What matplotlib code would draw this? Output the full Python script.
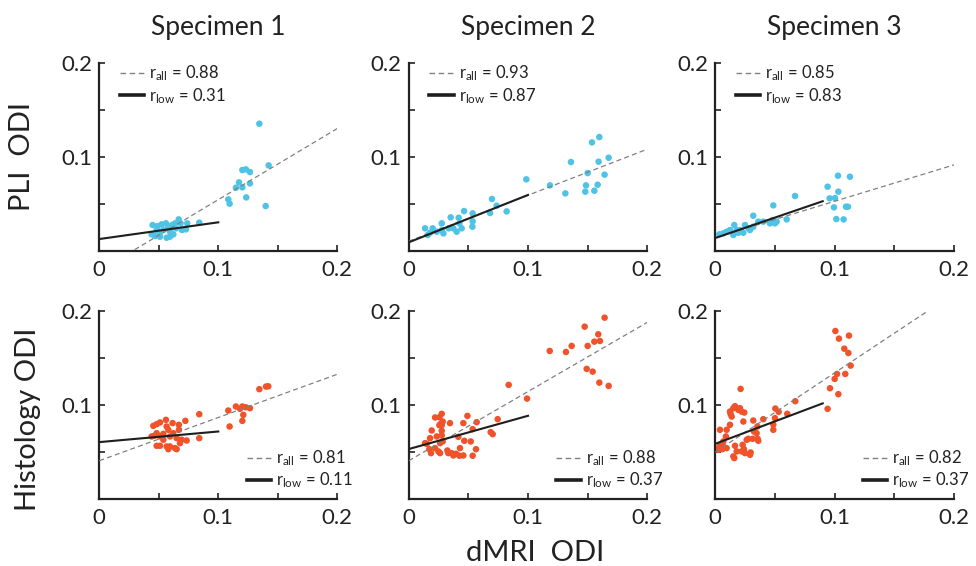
import matplotlib
matplotlib.use('Agg')
import matplotlib.pyplot as plt
from matplotlib.lines import Line2D
import numpy as np

plt.rcParams['font.family'] = ['Lato', 'DejaVu Sans']
plt.rcParams['mathtext.fontset'] = 'custom'
plt.rcParams['mathtext.rm'] = 'Lato'
plt.rcParams['mathtext.it'] = 'Lato:italic'
plt.rcParams['mathtext.bf'] = 'Lato:bold'

# ---------------- data ----------------
specimens = ['Specimen 1', 'Specimen 2', 'Specimen 3']
row_labels = ['PLI  ODI', 'Histology ODI']
x_label = 'dMRI  ODI'
x_ticks = [0, 0.05, 0.1, 0.15, 0.2]
x_ticklabels = ['0', '', '0.1', '', '0.2']
y_ticks = [0.05, 0.1, 0.15, 0.2]
y_ticklabels = ['', '0.1', '', '0.2']

pli1_x = [0.1345, 0.1423, 0.1202, 0.1232, 0.1266, 0.1174, 0.1266, 0.1148, 0.1202, 0.1084,
          0.1095, 0.1235, 0.1398,
          0.0448, 0.0440, 0.0490, 0.0510, 0.0524, 0.0560, 0.0566, 0.0594, 0.0611, 0.0622,
          0.0644, 0.0667, 0.0683, 0.0695, 0.0728, 0.0739, 0.0840, 0.0538, 0.0580, 0.0636,
          0.0482, 0.0468, 0.0510, 0.0594]
pli1_y = [0.1351, 0.0908, 0.0858, 0.0865, 0.0837, 0.0727, 0.0716, 0.0670, 0.0674, 0.0546,
          0.0500, 0.0567, 0.0475,
          0.0273, 0.0174, 0.0262, 0.0191, 0.0280, 0.0291, 0.0138, 0.0202, 0.0273, 0.0174,
          0.0238, 0.0333, 0.0291, 0.0220, 0.0227, 0.0291, 0.0298, 0.0220, 0.0255, 0.0291,
          0.0220, 0.0156, 0.0149, 0.0149]

pli2_x = [0.0986, 0.1184, 0.1360, 0.1536, 0.1598, 0.1592, 0.1676, 0.1500, 0.1486, 0.1480,
          0.1313, 0.1556, 0.1584, 0.1642,
          0.0821, 0.0737, 0.0698, 0.0682, 0.0536, 0.0536, 0.0534, 0.0464, 0.0419, 0.0352,
          0.0425, 0.0374, 0.0444, 0.0335, 0.0277, 0.0277, 0.0235, 0.0179, 0.0137, 0.0201,
          0.0159, 0.0291, 0.0402]
pli2_y = [0.0759, 0.0695, 0.0943, 0.1152, 0.1209, 0.0947, 0.0989, 0.0826, 0.0695, 0.0628,
          0.0610, 0.0638, 0.0702, 0.0809,
          0.0418, 0.0479, 0.0550, 0.0401, 0.0397, 0.0312, 0.0255, 0.0422, 0.0351, 0.0355,
          0.0291, 0.0238, 0.0238, 0.0238, 0.0291, 0.0220, 0.0202, 0.0191, 0.0238, 0.0238,
          0.0167, 0.0184, 0.0202]

pli3_x = [0.1028, 0.1128, 0.0941, 0.1031, 0.0958, 0.1003, 0.0994, 0.1095, 0.1112, 0.1014,
          0.1075, 0.0668, 0.0486, 0.0598,
          0.0034, 0.0067, 0.0095, 0.0123, 0.0159, 0.0151, 0.0193, 0.0235, 0.0249, 0.0277,
          0.0318, 0.0318, 0.0360, 0.0402, 0.0480, 0.0500, 0.0514, 0.0458, 0.0207, 0.0179,
          0.0291]
pli3_y = [0.0798, 0.0787, 0.0681, 0.0628, 0.0557, 0.0560, 0.0461, 0.0468, 0.0468, 0.0337,
          0.0333, 0.0582, 0.0482, 0.0333,
          0.0174, 0.0184, 0.0202, 0.0220, 0.0273, 0.0167, 0.0191, 0.0191, 0.0273, 0.0238,
          0.0255, 0.0372, 0.0309, 0.0309, 0.0326, 0.0291, 0.0309, 0.0291, 0.0220, 0.0220,
          0.0220]

hist1_x = [0.1345, 0.1401, 0.1420, 0.1266, 0.1230, 0.1202, 0.1182, 0.1148, 0.1084, 0.1210,
           0.1202, 0.1095, 0.0840, 0.0840,
           0.0454, 0.0482, 0.0510, 0.0560, 0.0566, 0.0616, 0.0669, 0.0669, 0.0723, 0.0462,
           0.0482, 0.0510, 0.0538, 0.0580, 0.0594, 0.0622, 0.0650, 0.0692, 0.0734, 0.0482,
           0.0510, 0.0566, 0.0580, 0.0594, 0.0636, 0.0650, 0.0678, 0.0538, 0.0440]
hist1_y = [0.1165, 0.1193, 0.1196, 0.0963, 0.0973, 0.0981, 0.0956, 0.0981, 0.0938, 0.0892,
           0.0828, 0.0768, 0.0644, 0.0899,
           0.0775, 0.0793, 0.0811, 0.0839, 0.0768, 0.0804, 0.0786, 0.0733, 0.0828, 0.0669,
           0.0697, 0.0662, 0.0690, 0.0733, 0.0662, 0.0697, 0.0644, 0.0627, 0.0619, 0.0563,
           0.0563, 0.0556, 0.0527, 0.0556, 0.0538, 0.0527, 0.0591, 0.0627, 0.0662]

hist2_x = [0.1642, 0.1475, 0.1589, 0.1556, 0.1603, 0.1500, 0.1366, 0.1318, 0.1182, 0.1492,
           0.1542, 0.1598, 0.1676, 0.0838, 0.0992,
           0.0746, 0.0687, 0.0704, 0.0492, 0.0570, 0.0536, 0.0458, 0.0520, 0.0564, 0.0536,
           0.0466, 0.0416, 0.0425, 0.0374, 0.0397, 0.0324, 0.0332, 0.0285, 0.0277, 0.0257,
           0.0268, 0.0257, 0.0277, 0.0221, 0.0193, 0.0179, 0.0151, 0.0173, 0.0137, 0.0221,
           0.0249, 0.0263, 0.0277, 0.0277, 0.0263, 0.0285, 0.0235, 0.0346, 0.0187, 0.0458,
           0.0360, 0.0430]
hist2_y = [0.1926, 0.1830, 0.1749, 0.1671, 0.1678, 0.1625, 0.1625, 0.1561, 0.1572, 0.1381,
           0.1352, 0.1235, 0.1200, 0.1211, 0.1065,
           0.0846, 0.0708, 0.0687, 0.0881, 0.0814, 0.0740, 0.0804, 0.0609, 0.0527, 0.0457,
           0.0616, 0.0658, 0.0457, 0.0460, 0.0478, 0.0513, 0.0485, 0.0821, 0.0903, 0.0867,
           0.0796, 0.0782, 0.0782, 0.0864, 0.0726, 0.0644, 0.0584, 0.0527, 0.0591, 0.0538,
           0.0503, 0.0485, 0.0722, 0.0673, 0.0591, 0.0609, 0.0662, 0.0804, 0.0485, 0.0460,
           0.0485, 0.0538]

hist3_x = [0.1006, 0.1120, 0.1036, 0.1081, 0.1115, 0.1134, 0.1089, 0.1020, 0.1000, 0.0961,
           0.1031, 0.0941,
           0.0670, 0.0603, 0.0531, 0.0503, 0.0500, 0.0486, 0.0486, 0.0402, 0.0352, 0.0318,
           0.0346, 0.0355, 0.0360, 0.0324, 0.0313, 0.0277, 0.0212, 0.0165, 0.0151, 0.0128,
           0.0123, 0.0137, 0.0123, 0.0095, 0.0089, 0.0061, 0.0045, 0.0059, 0.0034, 0.0025,
           0.0095, 0.0165, 0.0179, 0.0221, 0.0229, 0.0240, 0.0249, 0.0291, 0.0296, 0.0151,
           0.0159, 0.0039, 0.0067, 0.0243, 0.0221, 0.0207, 0.0193, 0.0235, 0.0263]
hist3_y = [0.1784, 0.1735, 0.1703, 0.1596, 0.1550, 0.1416, 0.1327, 0.1327, 0.1274, 0.1175,
           0.1112, 0.0956,
           0.1037, 0.0903, 0.0924, 0.0959, 0.0857, 0.0789, 0.0733, 0.0846, 0.0768, 0.0832,
           0.0697, 0.0637, 0.0616, 0.0715, 0.0637, 0.0637, 0.1168, 0.0984, 0.0963, 0.0903,
           0.0927, 0.0874, 0.0786, 0.0733, 0.0662, 0.0591, 0.0563, 0.0527, 0.0556, 0.0520,
           0.0538, 0.0563, 0.0503, 0.0503, 0.0573, 0.0527, 0.0485, 0.0467, 0.0492, 0.0450,
           0.0432, 0.0733, 0.0609, 0.0917, 0.0927, 0.0963, 0.0945, 0.0821, 0.0627]

# linear fits: (slope, intercept) for all points and for low-ODI points
pli_fit_all = [(0.757, -0.0214), (0.49, 0.0100), (0.387, 0.0139)]
pli_fit_low = [(0.178, 0.0124), (0.504, 0.0089), (0.435, 0.0135)]
hist_fit_all = [(0.46, 0.0404), (0.736, 0.0404), (0.843, 0.0496)]
hist_fit_low = [(0.113, 0.0602), (0.354, 0.0528), (0.478, 0.0584)]
low_xmax = [0.1, 0.1, 0.09]
pli_r_all = [0.88, 0.93, 0.85]
pli_r_low = [0.31, 0.87, 0.83]
hist_r_all = [0.81, 0.88, 0.82]
hist_r_low = [0.11, 0.37, 0.37]

pli_x = [pli1_x, pli2_x, pli3_x]
pli_y = [pli1_y, pli2_y, pli3_y]
hist_x = [hist1_x, hist2_x, hist3_x]
hist_y = [hist1_y, hist2_y, hist3_y]

# ---------------- style ----------------
cyan = '#4EC3E6'
orange = '#F0522A'
dash_col = '#808080'
line_col = '#1e1e1e'
W, H = 976, 566

fig = plt.figure(figsize=(W / 100, H / 100), dpi=100)
lefts = [99.3, 408.7, 715.3]
widths = [238.0, 238.6, 238.7]
tops = [62.7, 310.7]
ax_h = 188.0

rows = [
    (pli_x, pli_y, pli_fit_all, pli_fit_low, pli_r_all, pli_r_low, cyan),
    (hist_x, hist_y, hist_fit_all, hist_fit_low, hist_r_all, hist_r_low, orange),
]

for r, (xs, ys, fa, fl, ra, rl, col) in enumerate(rows):
    for c in range(3):
        ax = fig.add_axes([lefts[c] / W, 1 - (tops[r] + ax_h) / H, widths[c] / W, ax_h / H])
        ax.scatter(xs[c], ys[c], s=22, color=col, edgecolors='none', zorder=2)
        xa = np.array([0.0, 0.2])
        ax.plot(xa, fa[c][0] * xa + fa[c][1], color=dash_col, lw=0.9,
                dashes=(4.0, 2.6), zorder=3)
        xl = np.array([0.0, low_xmax[c]])
        ax.plot(xl, fl[c][0] * xl + fl[c][1], color=line_col, lw=1.5, zorder=4)
        ax.set_xlim(0, 0.2)
        ax.set_ylim(0, 0.2)
        ax.set_xticks(x_ticks)
        ax.set_xticklabels(x_ticklabels)
        ax.set_yticks(y_ticks)
        ax.set_yticklabels(y_ticklabels)
        for s in ['top', 'right']:
            ax.spines[s].set_visible(False)
        for s in ['left', 'bottom']:
            ax.spines[s].set_linewidth(1.6)
            ax.spines[s].set_color('#222222')
        ax.tick_params(direction='in', length=4, width=1.2, color='#222222',
                       labelsize=16, colors='#222222')
        ax.tick_params(axis='x', pad=7)
        ax.tick_params(axis='y', pad=5)
        ax.set_facecolor('none')

        h_all = Line2D([], [], color=dash_col, lw=1.0, dashes=(4.0, 2.6))
        h_low = Line2D([], [], color=line_col, lw=2.6)
        labels = [r'r$_{\mathrm{all}}$ = %.2f' % ra[c], r'r$_{\mathrm{low}}$ = %.2f' % rl[c]]
        common = dict(frameon=False, fontsize=12, handlelength=1.45, handletextpad=0.3,
                      borderpad=0, borderaxespad=0, labelspacing=0.15)
        if r == 0:
            leg = ax.legend([h_all, h_low], labels, loc='upper left',
                            bbox_to_anchor=(0.087, 0.995), **common)
        else:
            leg = ax.legend([h_all, h_low], labels, loc='lower left',
                            bbox_to_anchor=(0.619, 0.045), **common)
        for t in leg.get_texts():
            t.set_color('#222222')
        if r == 0:
            ax.set_title(specimens[c], fontsize=19, pad=20, color='#222222')

fig.text(22 / W, 1 - 156.7 / H, row_labels[0], rotation=90, ha='center', va='center',
         fontsize=21, color='#222222')
fig.text(28 / W, 1 - 419 / H, row_labels[1], rotation=90, ha='center', va='center',
         fontsize=21, color='#222222')
fig.text(535 / W, 1 - 560.7 / H, x_label, ha='center', va='baseline',
         fontsize=21, color='#222222')

fig.savefig('out.png', dpi=100)
